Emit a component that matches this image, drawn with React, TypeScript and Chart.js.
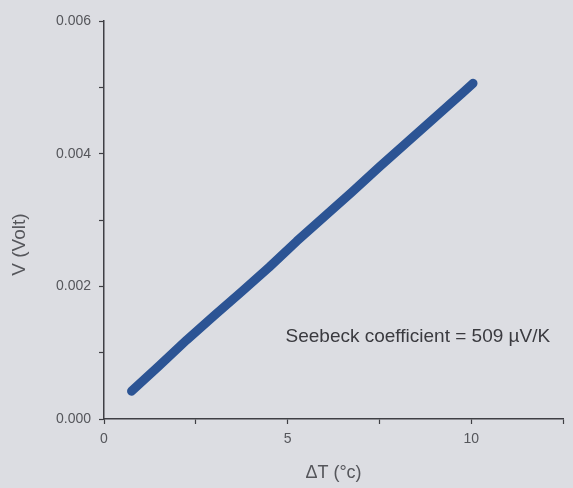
import React, { useEffect, useRef } from "react";
import { Chart, registerables } from "chart.js";

Chart.register(...registerables);

const deltaT = [0.75, 1.5, 2.25, 3.0, 3.75, 4.5, 5.25, 6.0, 6.75, 7.5, 8.25, 9.0, 9.75, 10.05];
const voltage = [0.00042, 0.00080, 0.00119, 0.00156, 0.00192, 0.00229, 0.00268, 0.00305, 0.00342, 0.00380, 0.00417, 0.00454, 0.00491, 0.00506];
const xTickLabels = ["0", "5", "10"];
const yTickLabels = ["0.000", "0.002", "0.004", "0.006"];
const annotationText = "Seebeck coefficient = 509 \u00B5V/K";
const xTitle = "\u0394T (\u00B0c)";
const yTitle = "V (Volt)";

const BG = "#dcdde2";
const AXIS = "#3f3f44";
const TEXT = "#55565b";
const LINE = "#2c5494";
const FONT = "'Liberation Sans', Arial, sans-serif";

export default function App() {
  const ref = useRef<HTMLCanvasElement | null>(null);

  useEffect(() => {
    document.body.style.margin = "0";
    document.body.style.background = BG;
    const canvas = ref.current!;
    const textPlugin = {
      id: "textPlugin",
      afterDraw(chart: any) {
        const ctx = chart.ctx;
        const xs = chart.scales.x;
        const ys = chart.scales.y;
        ctx.save();
        ctx.fillStyle = "#3a3a3f";
        ctx.font = "19px " + FONT;
        ctx.textAlign = "right";
        ctx.textBaseline = "middle";
        ctx.fillText(annotationText, xs.getPixelForValue(12.15), ys.getPixelForValue(0.00124));
        ctx.restore();

        ctx.save();
        ctx.fillStyle = TEXT;
        ctx.font = "19px " + FONT;
        ctx.textAlign = "center";
        ctx.textBaseline = "middle";
        ctx.translate(20, ys.getPixelForValue(0.00263));
        ctx.rotate(-Math.PI / 2);
        ctx.fillText(yTitle, 0, 0);
        ctx.restore();
      },
    };

    const chart = new Chart(canvas, {
      type: "line",
      data: {
        datasets: [
          {
            data: deltaT.map((x, i) => ({ x, y: voltage[i] })),
            borderColor: LINE,
            backgroundColor: LINE,
            borderWidth: 9,
            borderCapStyle: "round",
            borderJoinStyle: "round",
            pointRadius: 0,
            tension: 0,
            fill: false,
          },
        ],
      },
      options: {
        responsive: false,
        animation: false,
        devicePixelRatio: 1,
        layout: { padding: { top: 21, right: 10, left: 0, bottom: 0 } },
        plugins: { legend: { display: false }, tooltip: { enabled: false } },
        scales: {
          x: {
            type: "linear",
            min: 0,
            max: 12.5,
            afterFit: (s: any) => {
              s.height = 69;
            },
            border: { display: true, color: AXIS, width: 1.5 },
            grid: { drawOnChartArea: false, drawTicks: true, tickLength: 5, tickColor: AXIS, tickWidth: 1.2 },
            ticks: {
              stepSize: 2.5,
              color: TEXT,
              padding: 7,
              maxRotation: 0,
              autoSkip: false,
              font: { size: 14, family: FONT },
              callback: (v: any) => {
                const idx = [0, 5, 10].indexOf(Number(v));
                return idx >= 0 ? xTickLabels[idx] : "";
              },
            },
            title: {
              display: true,
              text: xTitle,
              color: TEXT,
              font: { size: 18, family: FONT },
              padding: { top: 0, bottom: 4 },
            },
          },
          y: {
            type: "linear",
            min: 0,
            max: 0.006,
            afterFit: (s: any) => {
              s.width = 104;
            },
            border: { display: true, color: AXIS, width: 1.5 },
            grid: { drawOnChartArea: false, drawTicks: true, tickLength: 5, tickColor: AXIS, tickWidth: 1.2 },
            ticks: {
              stepSize: 0.001,
              color: TEXT,
              padding: 8,
              autoSkip: false,
              font: { size: 14, family: FONT },
              callback: (v: any) => {
                const n = Math.round(Number(v) * 1000);
                return n % 2 === 0 ? yTickLabels[n / 2] : "";
              },
            },
          },
        },
      },
      plugins: [textPlugin],
    } as any);
    return () => chart.destroy();
  }, []);

  return (
    <div style={{ width: 573, height: 488, background: BG }}>
      <canvas ref={ref} width={573} height={488} style={{ display: "block" }} />
    </div>
  );
}
